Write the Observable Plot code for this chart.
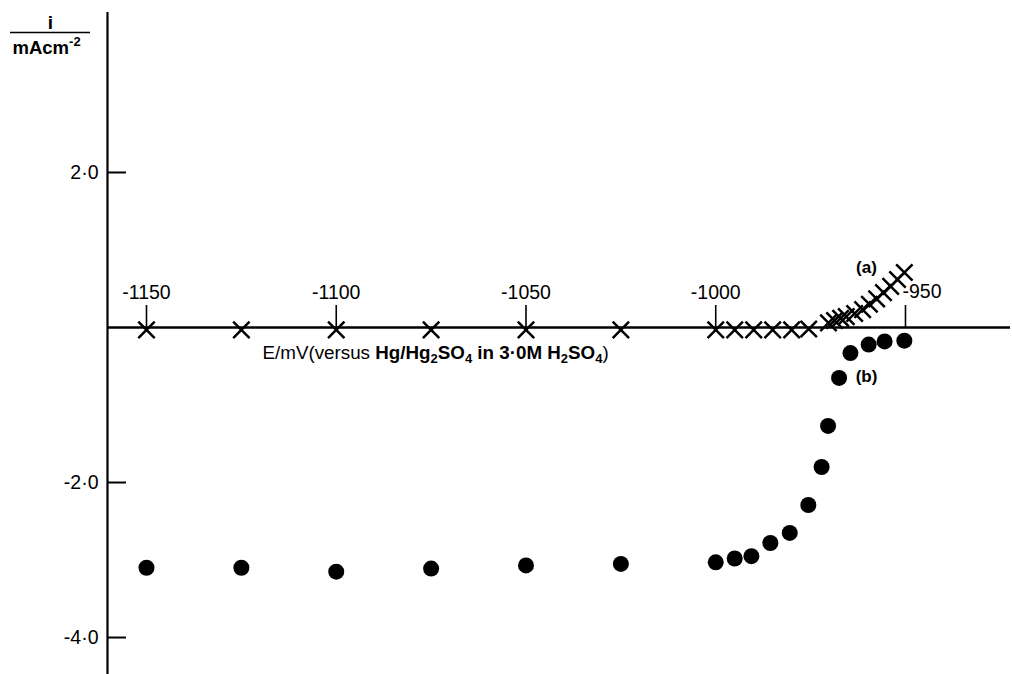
<!DOCTYPE html>
<html><head><meta charset="utf-8">
<script src="https://cdn.jsdelivr.net/npm/d3@7"></script>
<script src="https://cdn.jsdelivr.net/npm/@observablehq/plot@0.6"></script>
<style>html,body{margin:0;padding:0;background:#fff;}</style>
</head><body><div id="chart"></div>
<script>
// ---- data ----
const crossE = [-1150,-1125,-1100,-1075,-1050,-1025,-1000,-995,-990,-985,-980,-975.5,
  -970.3,-968.7,-967.1,-965.6,-963.4,-961.3,-959.5,-957.6,-955.8,-953.9,-952.1,-950.3];
const crossI = [-0.03,-0.03,-0.03,-0.03,-0.03,-0.03,-0.03,-0.03,-0.03,-0.03,-0.03,-0.02,
  0.06,0.09,0.12,0.14,0.18,0.23,0.30,0.37,0.45,0.53,0.62,0.71];
const dotE = [-1150,-1125,-1100,-1075,-1050,-1025,-1000,-995,-990.6,-985.6,-980.5,-975.6,
  -972.1,-970.4,-967.5,-964.5,-959.7,-955.5,-950.3];
const dotI = [-3.10,-3.10,-3.15,-3.11,-3.07,-3.05,-3.03,-2.98,-2.95,-2.78,-2.65,-2.29,
  -1.80,-1.27,-0.65,-0.33,-0.22,-0.18,-0.17];
const xTickValues = [-1150,-1100,-1050,-1000,-950];
const xTickLabels = ["-1150","-1100","-1050","-1000","-950"];
const yTickValues = [2,-2,-4];
const yTickLabels = ["2·0","-2·0","-4·0"];
const seriesNames = ["(a)","(b)"];
const xTitle = "E/mV(versus Hg/Hg2SO4 in 3·0M H2SO4)";
const yTitleTop = "i";
const yTitleBottom = "mAcm-2";

// ---- layout ----
const W = 1012, H = 674;
const xDomain = [-1188.47, -921.8];
const yDomain = [-4.477, 4.219];
const invX = px => xDomain[0] + px / W * (xDomain[1] - xDomain[0]);
const invY = py => yDomain[1] - py / H * (yDomain[1] - yDomain[0]);

const crosses = crossE.map((e, i) => ({e, i: crossI[i]}));
const dots = dotE.map((e, i) => ({e, i: dotI[i]}));
const xTicks = xTickValues.map((v, k) => ({v, label: xTickLabels[k]}));
const yTicks = yTickValues.map((v, k) => ({v, label: yTickLabels[k]}));

const yAxisX = invX(107);
const font = "'Liberation Sans', Arial, Helvetica, sans-serif";

const chart = Plot.plot({
  width: W, height: H, margin: 0,
  x: {domain: xDomain, axis: null},
  y: {domain: yDomain, axis: null},
  style: {fontFamily: font, background: "white", color: "black", overflow: "visible"},
  marks: [
    // axes
    Plot.ruleX([yAxisX], {y1: invY(12), y2: yDomain[0], stroke: "black", strokeWidth: 2.2}),
    Plot.ruleY([0], {x1: yAxisX, x2: invX(1010), stroke: "black", strokeWidth: 2.6}),
    // y ticks (to the right of the axis)
    Plot.ruleY(yTicks, {y: "v", x1: yAxisX, x2: invX(126), stroke: "black", strokeWidth: 2}),
    Plot.text(yTicks, {y: "v", x: invX(98), text: "label", textAnchor: "end", lineAnchor: "middle", fontSize: 19.5, fill: "black"}),
    // x ticks (above the axis)
    Plot.ruleX(xTickValues, {y1: 0, y2: invY(305), stroke: "black", strokeWidth: 1.6}),
    Plot.text(xTicks.filter(d => d.v !== -950), {x: "v", y: invY(298), text: "label", textAnchor: "middle", lineAnchor: "bottom", fontSize: 19.5, fill: "black"}),
    Plot.text(xTicks.filter(d => d.v === -950), {x: "v", y: invY(297), text: "label", textAnchor: "start", dx: -3, lineAnchor: "bottom", fontSize: 19.5, fill: "black"}),
    // series
    Plot.dot(dots, {x: "e", y: "i", r: 8, fill: "black", stroke: "none"}),
    Plot.dot(crosses, {x: "e", y: "i", symbol: "times", r: 7.5, stroke: "black", strokeWidth: 2.5}),
    // series labels
    Plot.text([seriesNames[0]], {x: invX(866), y: invY(267), text: d => d, fontWeight: "bold", fontSize: 17, lineAnchor: "middle", fill: "black"}),
    Plot.text([seriesNames[1]], {x: invX(866), y: invY(376), text: d => d, fontWeight: "bold", fontSize: 17, lineAnchor: "middle", fill: "black"}),
    // x title
    Plot.text([xTitle], {x: invX(262), y: invY(358), text: d => d, textAnchor: "start", lineAnchor: "bottom", fontSize: 18.8, fill: "black"}),
    // y title (fraction)
    Plot.text([yTitleTop], {x: invX(50), y: invY(28), text: d => d, lineAnchor: "bottom", fontWeight: "bold", fontSize: 19, fill: "black"}),
    Plot.ruleY([invY(32)], {x1: invX(10), x2: invX(90), stroke: "black", strokeWidth: 1.6}),
    Plot.text([yTitleBottom], {x: invX(12), y: invY(53), text: d => d, textAnchor: "start", lineAnchor: "bottom", fontWeight: "bold", fontSize: 18.5, fill: "black"})
  ]
});

document.getElementById("chart").appendChild(chart);

// rich text: subscripts / superscripts
function rich(content, parts) {
  d3.select(chart).selectAll("text").each(function() {
    if (this.textContent !== content) return;
    const t = d3.select(this);
    t.text(null);
    for (const p of parts) {
      const s = t.append("tspan").text(p.t);
      if (p.w) s.attr("font-weight", p.w);
      if (p.fs) s.attr("font-size", p.fs);
      if (p.dy) s.attr("dy", p.dy);
    }
  });
}
rich(xTitle, [
  {t: "E/mV(versus "},
  {t: "Hg/Hg", w: "bold"},
  {t: "2", w: "bold", fs: 13, dy: 4},
  {t: "SO", w: "bold", dy: -4},
  {t: "4", w: "bold", fs: 13, dy: 4},
  {t: " in 3·0M H", w: "bold", dy: -4},
  {t: "2", w: "bold", fs: 13, dy: 4},
  {t: "SO", w: "bold", dy: -4},
  {t: "4", w: "bold", fs: 13, dy: 4},
  {t: ")", dy: -4}
]);
rich(yTitleBottom, [
  {t: "mAcm"},
  {t: "-2", fs: 13, dy: -8}
]);
</script>
</body></html>
